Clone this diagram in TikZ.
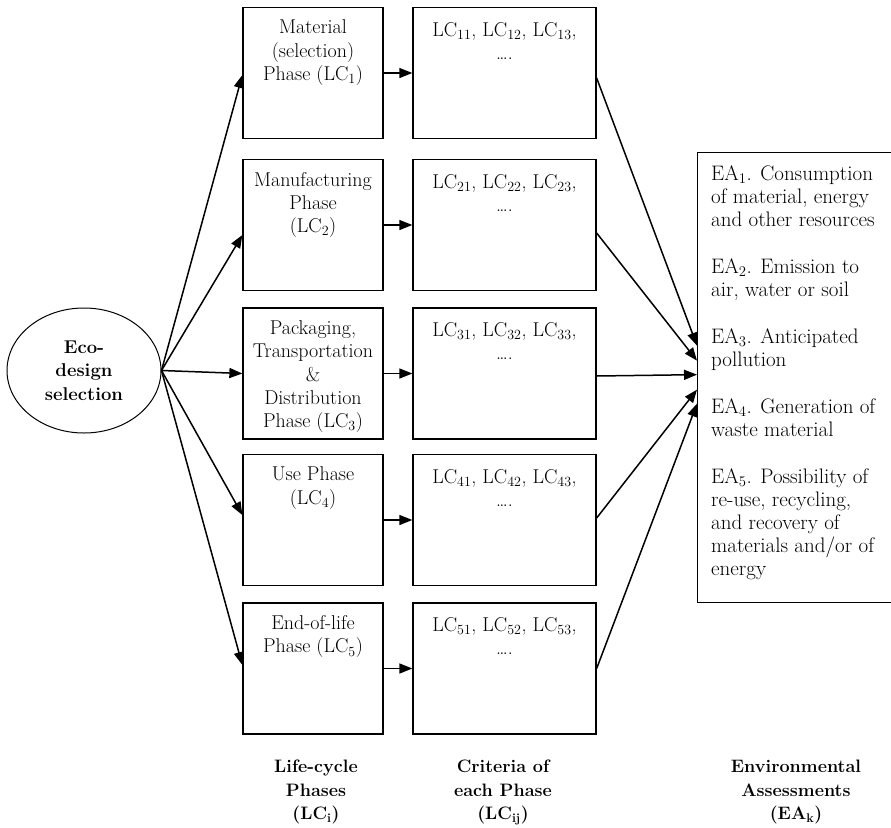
\documentclass[tikz,border=0pt]{standalone}
\usetikzlibrary{arrows.meta,shapes.geometric}

\tikzset{
  box/.style={draw, line width=1.3pt, minimum height=131pt, inner sep=0pt},
  phasebox/.style={box, minimum width=140pt},
  critbox/.style={box, minimum width=183pt},
  boxtext/.style={anchor=north, align=center, inner sep=0pt, font=\fontsize{20}{23.3}\selectfont},
  caption/.style={anchor=north, align=center, inner sep=0pt, font=\fontsize{18}{23.5}\selectfont\bfseries},
  arr/.style={-{Triangle[length=13pt,width=10pt]}, line width=1.5pt},
}

\begin{document}
\begin{tikzpicture}[x=1pt, y=-1pt]

\useasboundingbox (0,0) rectangle (891,827);

% eco-design ellipse
\node[draw, ellipse, line width=1pt, minimum width=154pt, minimum height=125pt,
      align=center, font=\fontsize{18.5}{23.5}\selectfont\bfseries] (eco) at (84,370.5)
      {Eco-\\design\\selection};

% life-cycle phases
\node[phasebox] (lc1) at (313,73) {};
\node[phasebox] (lc2) at (313,225) {};
\node[phasebox] (lc3) at (313,373.5) {};
\node[phasebox] (lc4) at (313,520) {};
\node[phasebox] (lc5) at (313,668.5) {};

\node[boxtext] (lc1t) at ([yshift=-13pt]lc1.north) {Material\\(selection)\\Phase (LC\textsubscript{1})};
\node[boxtext] (lc2t) at ([yshift=-13pt]lc2.north) {Manufacturing\\Phase\\(LC\textsubscript{2})};
\node[boxtext] (lc3t) at ([yshift=-13pt]lc3.north) {Packaging,\\Transportation\\\&\\Distribution\\Phase (LC\textsubscript{3})};
\node[boxtext] (lc4t) at ([yshift=-13pt]lc4.north) {Use Phase\\(LC\textsubscript{4})};
\node[boxtext] (lc5t) at ([yshift=-13pt]lc5.north) {End-of-life\\Phase (LC\textsubscript{5})};

% criteria of each phase
\node[critbox] (cr1) at (504.5,73) {};
\node[critbox] (cr2) at (504.5,225) {};
\node[critbox] (cr3) at (504.5,373.5) {};
\node[critbox] (cr4) at (504.5,520) {};
\node[critbox] (cr5) at (504.5,668.5) {};

\node[boxtext] (cr1t) at ([yshift=-15pt]cr1.north) {LC\textsubscript{11}, LC\textsubscript{12}, LC\textsubscript{13},\\\ldots.};
\node[boxtext] (cr2t) at ([yshift=-15pt]cr2.north) {LC\textsubscript{21}, LC\textsubscript{22}, LC\textsubscript{23},\\\ldots.};
\node[boxtext] (cr3t) at ([yshift=-15pt]cr3.north) {LC\textsubscript{31}, LC\textsubscript{32}, LC\textsubscript{33},\\\ldots.};
\node[boxtext] (cr4t) at ([yshift=-15pt]cr4.north) {LC\textsubscript{41}, LC\textsubscript{42}, LC\textsubscript{43},\\\ldots.};
\node[boxtext] (cr5t) at ([yshift=-15pt]cr5.north) {LC\textsubscript{51}, LC\textsubscript{52}, LC\textsubscript{53},\\\ldots.};

% environmental assessments
\node[draw, line width=1.3pt, anchor=north west, minimum width=220pt, minimum height=450pt,
      inner sep=0pt] (ea) at (697,152) {};
\node[anchor=north west, align=left, inner sep=0pt, font=\fontsize{21}{23}\selectfont] (eat) at (711,165)
  {EA\textsubscript{1}. Consumption\\of material, energy\\and other resources\\[24pt]
   EA\textsubscript{2}. Emission to\\air, water or soil\\[24pt]
   EA\textsubscript{3}. Anticipated\\pollution\\[24pt]
   EA\textsubscript{4}. Generation of\\waste material\\[24pt]
   EA\textsubscript{5}. Possibility of\\re-use, recycling,\\and recovery of\\materials and/or of\\energy};

\coordinate (t1) at ([yshift=32pt]ea.west);
\coordinate (t2) at ([yshift=17pt]ea.west);
\coordinate (t3) at ([yshift=3pt]ea.west);
\coordinate (t4) at ([yshift=-12pt]ea.west);
\coordinate (t5) at ([yshift=-26pt]ea.west);

% arrows
\draw[arr] (eco.east) -- ([yshift=-2pt]lc1.west);
\draw[arr] (eco.east) -- ([yshift=-10pt]lc2.west);
\draw[arr] (eco.east) -- (lc3.west);
\draw[arr] (eco.east) -- ([yshift=5pt]lc4.west);
\draw[arr] (eco.east) -- ([yshift=3.5pt]lc5.west);

\draw[arr] (lc1.east) -- (cr1.west);
\draw[arr] (lc2.east) -- (cr2.west);
\draw[arr] (lc3.east) -- (cr3.west);
\draw[arr] (lc4.east) -- (cr4.west);
\draw[arr] (lc5.east) -- (cr5.west);

\draw[arr] ([yshift=-5pt]cr1.east) -- (t1);
\draw[arr] ([yshift=-8pt]cr2.east) -- (t2);
\draw[arr] ([yshift=-2.5pt]cr3.east) -- (t3);
\draw[arr] ([yshift=2pt]cr4.east) -- (t4);
\draw[arr] (cr5.east) -- (t5);

% column captions
\node[caption] (cap1) at (316,760) {Life-cycle\\Phases\\(LC\textsubscript{i})};
\node[caption] (cap2) at (503,760) {Criteria of\\each Phase\\(LC\textsubscript{ij})};
\node[caption] (cap3) at (796,760) {Environmental\\Assessments\\(EA\textsubscript{k})};

\end{tikzpicture}
\end{document}
